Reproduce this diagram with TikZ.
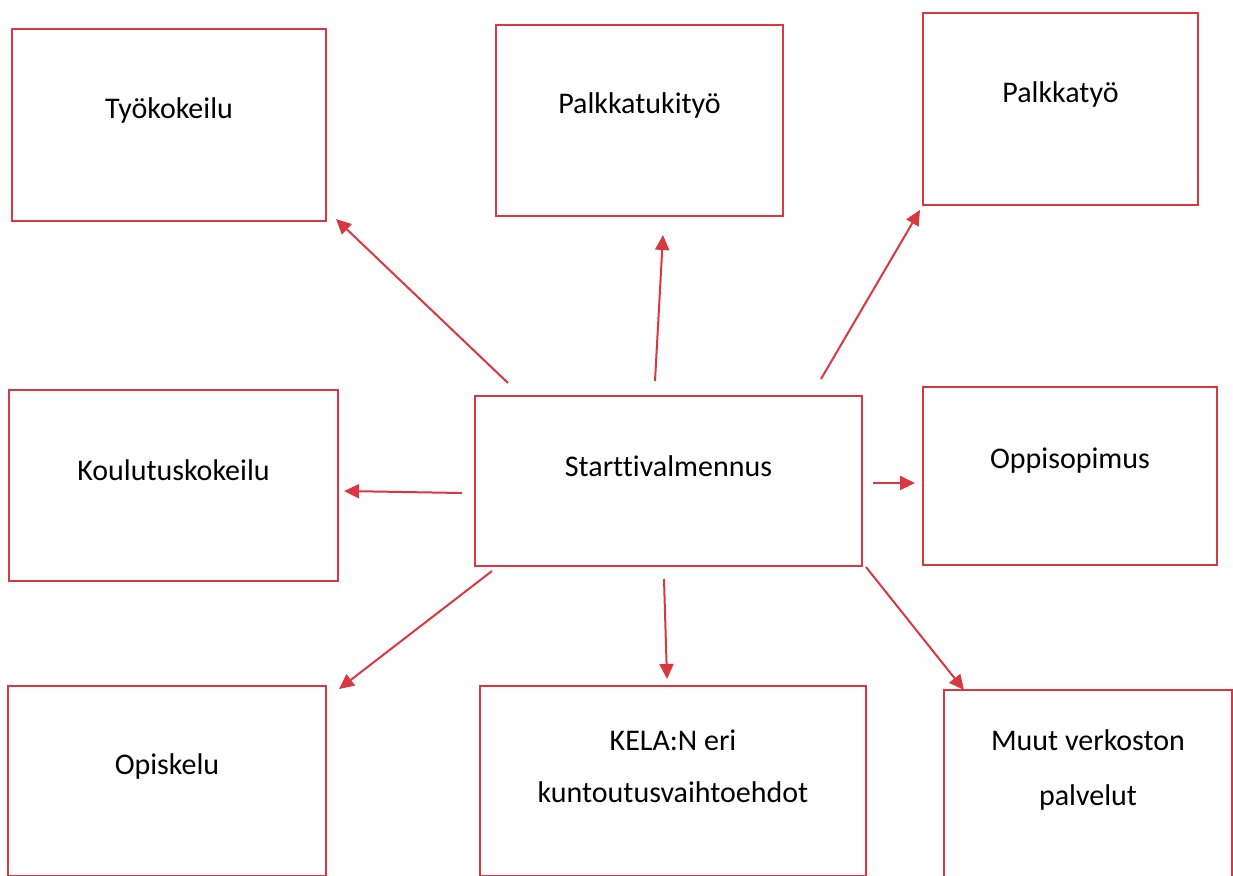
\documentclass[tikz,border=0pt]{standalone}
\usepackage{fontspec}
\setmainfont[Ligatures=NoCommon]{Carlito}
\usetikzlibrary{arrows.meta}
\definecolor{boxred}{RGB}{217,56,64}
\begin{document}
\begin{tikzpicture}[x=0.5pt,y=-0.5pt]
      \useasboundingbox (0,0) rectangle (1233,875);
      \begin{scope}[every node/.style={draw=boxred,line width=1pt,rectangle,inner sep=0pt},
          every label/.style={draw=none,align=center,inner sep=0pt,yshift=7.5pt,
            font=\fontsize{15}{26}\selectfont}]
        \node[minimum width=157pt,  minimum height=96pt,  label=center:Työkokeilu]      (a) at (169  ,125  ) {};
        \node[minimum width=143.5pt,minimum height=95.5pt,label=center:Palkkatukityö]   (b) at (639.5,120.5) {};
        \node[minimum width=137.5pt,minimum height=96pt,  label=center:Palkkatyö]       (c) at (1060.5,109 ) {};
        \node[minimum width=164.5pt,minimum height=95.5pt,label=center:Koulutuskokeilu] (d) at (173.5,485.5) {};
        \node[minimum width=193.5pt,minimum height=85pt,  label=center:Starttivalmennus](e) at (668.5,481  ) {};
        \node[minimum width=147pt,  minimum height=89pt,  label=center:Oppisopimus]     (f) at (1070 ,476  ) {};
        \node[minimum width=159pt,  minimum height=95pt,  label=center:Opiskelu]        (g) at (167  ,781  ) {};
        \node[minimum width=193pt,  minimum height=95pt,
          label={center:{KELA:N eri\\kuntoutusvaihtoehdot}}]                             (h) at (673  ,781  ) {};
        \node[minimum width=144pt,  minimum height=95pt,
          label={center:{Muut verkoston\\[1.5pt]palvelut}}]                              (i) at (1088 ,785  ) {};
      \end{scope}
      % arrow ends
      \coordinate (ea) at (508,383); \coordinate (ta) at (336,219);
      \coordinate (eb) at (655,381); \coordinate (tb) at (663,235);
      \coordinate (ec) at (821,379); \coordinate (tc) at (920,210);
      \coordinate (ed) at (462,493); \coordinate (td) at (344,491);
      \coordinate (ef) at (873,483); \coordinate (tf) at (915,483);
      \coordinate (eg) at (492,571); \coordinate (tg) at (339,689);
      \coordinate (eh) at (664,579); \coordinate (th) at (667,679);
      \coordinate (ei) at (866,567); \coordinate (ti) at (964,690);
      \begin{scope}[every edge/.style={draw=boxred,line width=1pt,
            -{Triangle[length=7.5pt,width=7pt]}}]
        \path (ea) edge (ta);
        \path (eb) edge (tb);
        \path (ec) edge (tc);
        \path (ed) edge (td);
        \path (ef) edge (tf);
        \path (eg) edge (tg);
        \path (eh) edge (th);
        \path (ei) edge (ti);
      \end{scope}
    \end{tikzpicture}
\end{document}
